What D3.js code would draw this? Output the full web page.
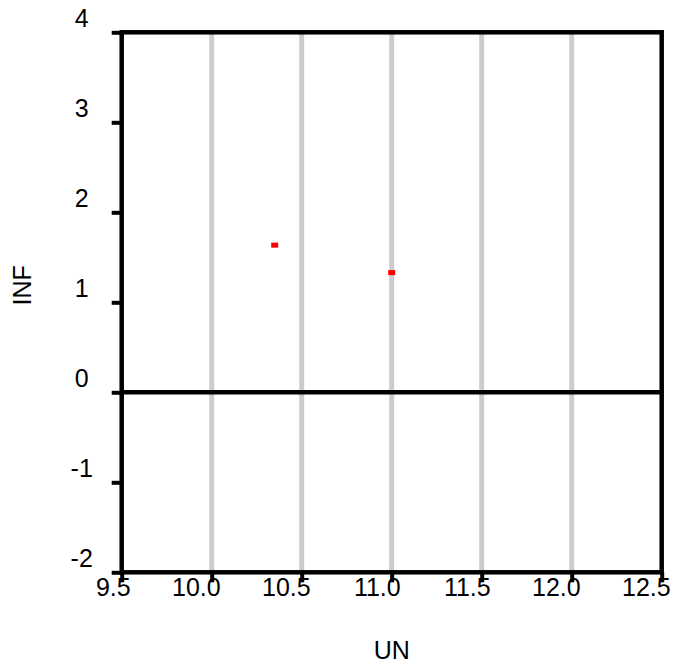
<!DOCTYPE html>
<html>
<head>
<meta charset="utf-8">
<script src="https://cdn.jsdelivr.net/npm/d3@7"></script>
<style>
  body { margin: 0; background: #fff; }
  text { font-family: "Liberation Sans", Arial, sans-serif; fill: #000; }
</style>
</head>
<body>
<svg id="mysvg" width="674" height="668"></svg>
<script>
var unValues = [10.35, 11.0];
var infValues = [1.635, 1.33];
var xTicks = [9.5, 10.0, 10.5, 11.0, 11.5, 12.0, 12.5];
var yTicks = [-2, -1, 0, 1, 2, 3, 4];
var gridTicks = [10.0, 10.5, 11.0, 11.5, 12.0];

var margin = {top: 32.3, right: 12.3, bottom: 95.7, left: 121.7};
var width = 674, height = 668;
var fontSize = "25px";

var svg = d3.select("#mysvg");

var x = d3.scaleLinear().domain([9.5, 12.5]).range([margin.left, width - margin.right]);
var y = d3.scaleLinear().domain([-2, 4]).range([height - margin.bottom, margin.top]);

// vertical grid
svg.append("g").selectAll("line")
  .data(gridTicks)
  .join("line")
  .attr("x1", function(d){ return x(d); })
  .attr("x2", function(d){ return x(d); })
  .attr("y1", y(4))
  .attr("y2", y(-2))
  .attr("stroke", "#cccccc")
  .attr("stroke-width", 5);

// zero line
svg.append("line")
  .attr("x1", x(9.5)).attr("x2", x(12.5))
  .attr("y1", y(0)).attr("y2", y(0))
  .attr("stroke", "#000").attr("stroke-width", 4.5);

// frame
svg.append("rect")
  .attr("x", x(9.5)).attr("y", y(4))
  .attr("width", x(12.5) - x(9.5))
  .attr("height", y(-2) - y(4))
  .attr("fill", "none")
  .attr("stroke", "#000")
  .attr("stroke-width", 4.5);

// x axis (labels sit with their last digit on the tick)
var xAxis = d3.axisBottom(x).tickValues(xTicks).tickFormat(d3.format(".1f")).tickSize(10).tickPadding(0);
var gx = svg.append("g").attr("transform", "translate(0," + y(-2) + ")").call(xAxis);
gx.select(".domain").remove();
gx.selectAll(".tick line").attr("stroke", "#000").attr("stroke-width", 4);
gx.selectAll(".tick text")
  .attr("x", 8.5)
  .attr("y", 24)
  .attr("dy", 0)
  .attr("text-anchor", "end")
  .style("font-size", fontSize)
  .style("font-family", "Liberation Sans, Arial, sans-serif");
gx.raise();

// y axis
var yAxis = d3.axisLeft(y).tickValues(yTicks).tickFormat(d3.format("d")).tickSize(10);
var gy = svg.append("g").attr("transform", "translate(" + x(9.5) + ",0)").call(yAxis);
gy.select(".domain").remove();
gy.selectAll(".tick line").attr("stroke", "#000").attr("stroke-width", 4);
gy.selectAll(".tick text")
  .attr("x", -40)
  .attr("y", -6)
  .attr("dy", 0)
  .attr("text-anchor", "middle")
  .text(function(d){ return d < 0 ? "-" + Math.abs(d) : d; })
  .style("font-size", fontSize)
  .style("font-family", "Liberation Sans, Arial, sans-serif");

// points
svg.append("g").selectAll("rect")
  .data(unValues)
  .join("rect")
  .attr("x", function(d){ return x(d) - 3.5; })
  .attr("y", function(d, i){ return y(infValues[i]) - 2.5; })
  .attr("width", 7)
  .attr("height", 5)
  .attr("fill", "#ff0000");

// axis titles
svg.append("text")
  .attr("x", (x(9.5) + x(12.5)) / 2)
  .attr("y", 659)
  .attr("text-anchor", "middle")
  .style("font-size", fontSize)
  .text("UN");

svg.append("text")
  .attr("transform", "translate(30.5," + ((y(4) + y(-2)) / 2 - 17) + ") rotate(-90)")
  .attr("text-anchor", "middle")
  .style("font-size", fontSize)
  .text("INF");
</script>
</body>
</html>
